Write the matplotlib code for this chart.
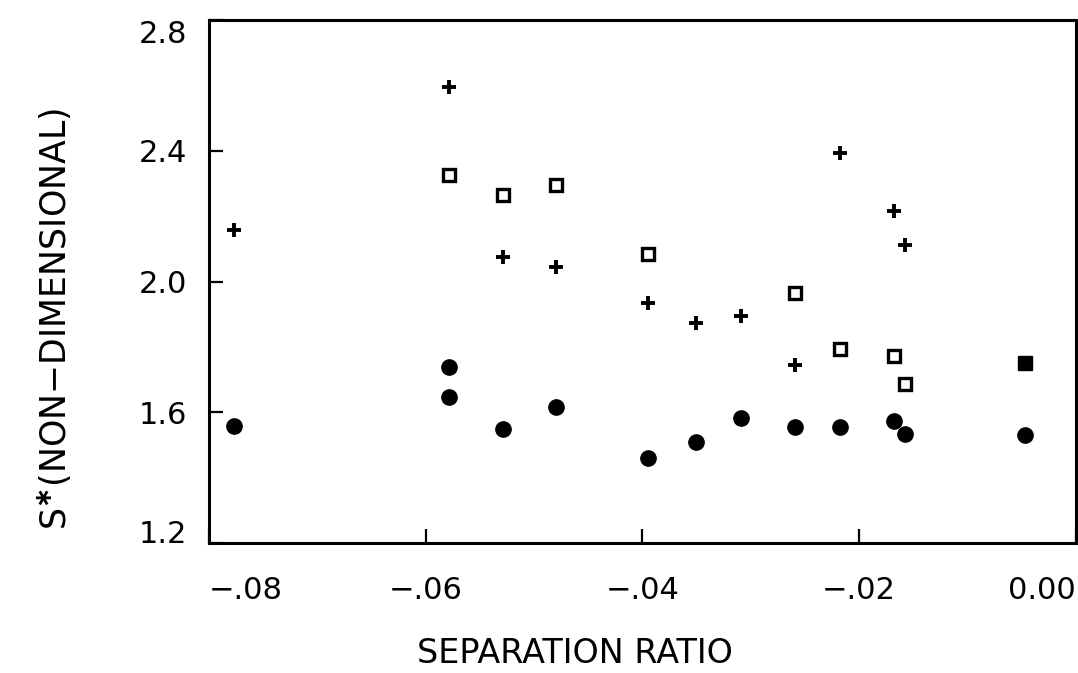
import matplotlib
matplotlib.use("Agg")
import matplotlib.pyplot as plt

# filled circles
circ_x = [-0.0777, -0.0579, -0.0579, -0.0529, -0.0480, -0.0395, -0.0351,
          -0.0309, -0.0259, -0.0218, -0.0168, -0.0158, -0.0047]
circ_y = [1.557, 1.738, 1.647, 1.549, 1.615, 1.461, 1.510,
          1.583, 1.554, 1.556, 1.575, 1.534, 1.532]

# open squares
sq_x = [-0.0579, -0.0529, -0.0480, -0.0395, -0.0259, -0.0218, -0.0168, -0.0158]
sq_y = [2.326, 2.266, 2.297, 2.085, 1.965, 1.794, 1.774, 1.686]

# filled square
fsq_x = [-0.0047]
fsq_y = [1.752]

# crosses
pl_x = [-0.0777, -0.0579, -0.0529, -0.0480, -0.0395, -0.0351, -0.0309,
        -0.0218, -0.0168, -0.0158, -0.0259]
pl_y = [2.159, 2.596, 2.076, 2.045, 1.934, 1.875, 1.895,
        2.395, 2.215, 2.113, 1.745]

xticks = [-0.08, -0.06, -0.04, -0.02, 0.00]
xtick_labels = ['\u2212.08', '\u2212.06', '\u2212.04', '\u2212.02', '0.00']
yticks = [1.2, 1.6, 2.0, 2.4, 2.8]
ytick_labels = ['1.2', '1.6', '2.0', '2.4', '2.8']

plt.rcParams['font.family'] = ['DejaVu Sans']

fig = plt.figure(figsize=(10.78, 6.73), dpi=100)
ax = fig.add_axes([0.194, 0.193, 0.804, 0.777])

ax.plot(circ_x, circ_y, 'o', color='black', ms=11, ls='none')
ax.plot(sq_x, sq_y, 's', mfc='white', mec='black', mew=2.4, ms=9, ls='none')
ax.plot(fsq_x, fsq_y, 's', color='black', ms=10.5, ls='none')
ax.plot(pl_x, pl_y, '+', color='black', mew=2.8, ms=10, ls='none')

ax.set_xlim(-0.08, 0.0)
ax.set_ylim(1.2, 2.8)

ax.set_xticks(xticks)
ax.set_xticklabels(xtick_labels)
ax.set_yticks(yticks)
ax.set_yticklabels(ytick_labels)

ax.tick_params(direction='in', length=10, width=1.6, labelsize=22, colors='black')
ax.tick_params(axis='x', pad=24)
ax.tick_params(axis='y', pad=16)

# end labels sit inside the frame corners
xl = ax.get_xticklabels()
xl[0].set_ha('left')
xl[-1].set_ha('right')
yl = ax.get_yticklabels()
yl[0].set_va('baseline')
yl[-1].set_va('top')

for s in ax.spines.values():
    s.set_linewidth(2.2)
    s.set_color('black')

ax.set_xlabel('SEPARATION RATIO', fontsize=24)
ax.xaxis.set_label_coords(0.422, -0.212)
ax.xaxis.label.set_va('center')

ax.set_ylabel(r'S$^{\mathbf{\ast}}$' + '(NON\u2212DIMENSIONAL)', fontsize=25)
ax.yaxis.set_label_coords(-0.178, 0.428)
ax.yaxis.label.set_va('center')

fig.savefig('out.png', dpi=100, facecolor='white')
